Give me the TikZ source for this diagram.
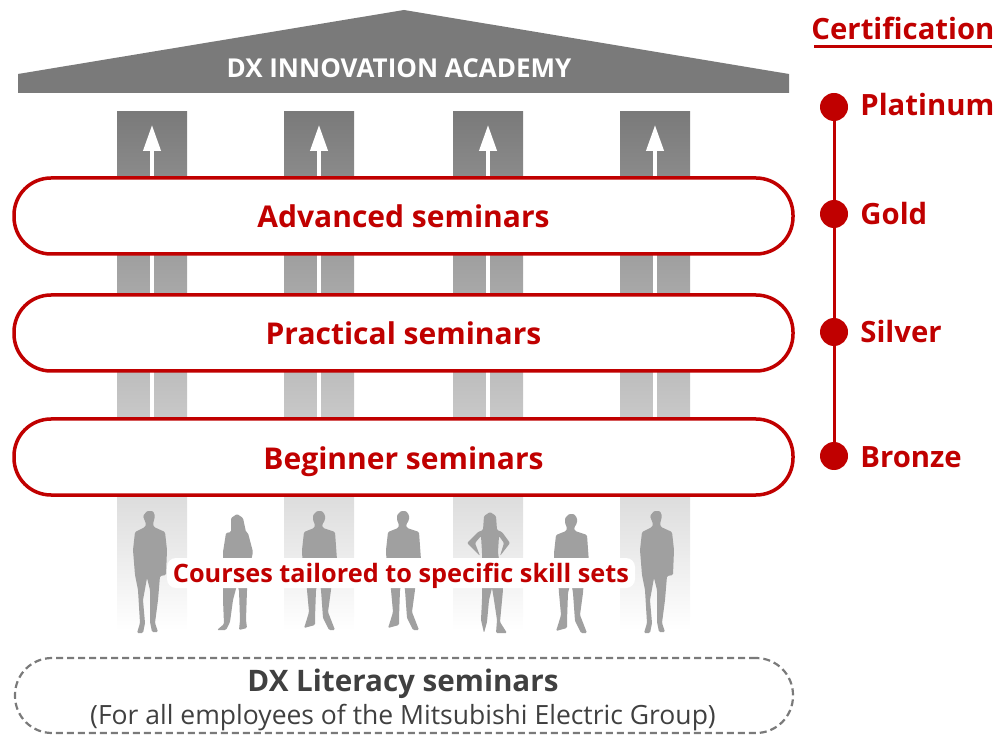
\documentclass[tikz,border=0pt]{standalone}
\usepackage{fontspec}
\setmainfont{Open Sans}
\usepackage{xcolor}
\usetikzlibrary{arrows.meta}
\usetikzlibrary{positioning}
\definecolor{dxred}{HTML}{C00000}
\definecolor{dxgrey}{HTML}{7A7A7A}
\definecolor{dxperson}{HTML}{A0A0A0}
\definecolor{dxtext}{HTML}{404040}
\tikzset{
	capsule/.style={draw=dxred, fill=white, line width=3.5pt, rounded corners=37pt, minimum width=779pt, minimum height=76pt, inner sep=0pt, text=dxred, text height=32pt, text depth=8pt, font=\bfseries\fontsize{30}{36}\selectfont},
	litcapsule/.style={draw=dxgrey, line width=2.2pt, dash pattern=on 7pt off 4pt, rounded corners=37pt, minimum width=778pt, minimum height=75pt, inner sep=0pt},
	pillar/.style={top color=dxgrey, bottom color=white, minimum width=70pt, minimum height=518pt, inner sep=0pt},
	uparrow/.style={draw=white, line width=4pt, -{Triangle[length=26pt,width=17pt]}},
	leveldot/.style={circle, fill=dxred, minimum size=28pt, inner sep=0pt},
	levellabel/.style={text=dxred, text height=28pt, text depth=6pt, font=\bfseries\fontsize{29.3}{36}\selectfont, inner sep=0pt},
	person/.style={fill=dxperson, rounded corners=1.2pt},
	man/.pic={
		\fill[person] (-3,511) -- (3,511) -- (5,516) -- (3,524) -- (4,527) -- (15,532) -- (17,550) -- (16,575) -- (10,576) -- (8,600) -- (5,623) -- (8,632) -- (2,632) -- (0,622) -- (0,590) -- (-3,578) -- (-7,600) -- (-5,623) -- (-7,633) -- (-13,633) -- (-10,623) -- (-12,590) -- (-15,575) -- (-17,550) -- (-15,532) -- (-5,527) -- (-4,524) -- (-7,516) -- cycle;
	},
	manwide/.pic={
		\fill[person] (-2,511) -- (3,511) -- (6,515) -- (6,520) -- (3,525) -- (4,528) -- (16,532) -- (18,560) -- (16,573) -- (13,575) -- (12,590) -- (9,612) -- (16,630) -- (10,630) -- (4,618) -- (2,590) -- (0,578) -- (-3,590) -- (-4,618) -- (-4,625) -- (-15,628) -- (-13,622) -- (-10,612) -- (-12,590) -- (-13,575) -- (-16,573) -- (-17,550) -- (-15,532) -- (-5,528) -- (-4,525) -- (-6,520) -- (-6,515) -- cycle;
	},
	lady/.pic={
		\fill[person] (0,514) -- (6,518) -- (9,532) -- (11,533) -- (16,552) -- (12,570) -- (10,590) -- (9,620) -- (10,628) -- (2,630) -- (3,620) -- (2,590) -- (0,585) -- (-4,600) -- (-7,622) -- (-11,630) -- (-20,630) -- (-13,624) -- (-14,600) -- (-14,570) -- (-14,552) -- (-11,533) -- (-6,532) -- (-6,518) -- cycle;
	},
	hipslady/.pic={
		\fill[person] (0,512) -- (6,516) -- (7,530) -- (12,532) -- (20,543) -- (10,556) -- (14,543) -- (9,536) -- (8,552) -- (13,590) -- (10,622) -- (17,633) -- (6,633) -- (7,620) -- (4,600) -- (2,588) -- (-1,600) -- (-3,622) -- (-6,633) -- (-9,620) -- (-8,600) -- (-8,590) -- (-8,552) -- (-9,536) -- (-15,543) -- (-10,556) -- (-23,543) -- (-12,532) -- (-7,530) -- (-6,516) -- cycle;
	},
}
\begin{document}
\begin{tikzpicture}[x=1pt, y=-1pt]
	\useasboundingbox (0,0) rectangle (994,735);

	% columns behind the seminars
	\foreach \colx/\colname in {152/one, 319/two, 488/three, 655/four} {
		\node[pillar] (pillar\colname) at (\colx,371) {};
		\coordinate (tail\colname) at (\colx,420);
		\coordinate (tip\colname) at (\colx,125);
		\draw[uparrow] (tail\colname) -- (tip\colname);
	}

	% roof
	\fill[dxgrey] (18,74) -- (404,10) -- (789,74) -- (789,93) -- (18,93) -- cycle;
	\node[anchor=base, text=white, font=\bfseries\fontsize{26}{32}\selectfont, inner sep=0pt] (academy) at (399,78) {DX INNOVATION ACADEMY};

	% seminars
	\node[capsule] (advanced) at (403.5,216) {Advanced seminars};
	\node[capsule] (practical) at (403.5,333) {Practical seminars};
	\node[capsule] (beginner) at (403.5,457) {Beginner seminars};

	% people
	\pic at (150,0) {man};
	\pic at (237,0) {lady};
	\pic at (319,0) {manwide};
	\pic at (403,0) {manwide};
	\pic at (490,0) {hipslady};
	\pic at (571,3) {manwide};
	\pic at (657,0) {man};
	\node[fill=white, rounded corners=9pt, minimum width=468pt, minimum height=30pt, inner sep=0pt] (halo) at (401,573) {};
	\node[anchor=base, text=dxred, font=\bfseries\fontsize{25.3}{30}\selectfont, inner sep=0pt] (tailored) at (401,582) {Courses tailored to specific skill sets};

	% literacy
	\node[litcapsule] (literacy) at (404,695.5) {};
	\node[anchor=base, text=dxtext, font=\bfseries\fontsize{29.6}{36}\selectfont, inner sep=0pt] (litname) at (403,691) {DX Literacy seminars};
	\node[anchor=base, text=dxtext, font=\fontsize{26.5}{32}\selectfont, inner sep=0pt] (litnote) at (403,724) {(For all employees of the Mitsubishi Electric Group)};

	% certification
	\node[anchor=base, text=dxred, font=\bfseries\fontsize{29.3}{36}\selectfont, inner sep=0pt] (cert) at (903,40) {Certification};
	\coordinate (certleft) at (814,47);
	\coordinate (certright) at (992,47);
	\draw[dxred, line width=3pt] (certleft) -- (certright);
	\node[leveldot] (platinum) at (834,107) {};
	\node[leveldot] (gold) at (834,214) {};
	\node[leveldot] (silver) at (834,332) {};
	\node[leveldot] (bronze) at (834,456) {};
	\draw[dxred, line width=3pt] (platinum) -- (gold) -- (silver) -- (bronze);
	\node[levellabel, right=12pt of platinum, yshift=2pt] (platinumname) {Platinum};
	\node[levellabel, right=12pt of gold] (goldname) {Gold};
	\node[levellabel, right=12pt of silver] (silvername) {Silver};
	\node[levellabel, right=12pt of bronze] (bronzename) {Bronze};
\end{tikzpicture}
\end{document}
